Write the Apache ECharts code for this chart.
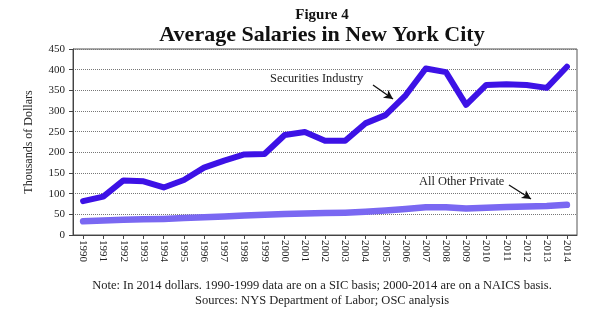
<!DOCTYPE html>
<html>
<head>
<meta charset="utf-8">
<script src="https://cdn.jsdelivr.net/npm/echarts@6/dist/echarts.min.js"></script>
<style>
  html, body { margin: 0; padding: 0; background: #fff; }
  #chart { width: 607px; height: 322px; }
</style>
</head>
<body>
<div id="chart"></div>
<script>
// Years on the horizontal axis
const years = ['1990','1991','1992','1993','1994','1995','1996','1997','1998','1999',
  '2000','2001','2002','2003','2004','2005','2006','2007','2008','2009',
  '2010','2011','2012','2013','2014'];

// Average salary, thousands of 2014 dollars
const securities = [82, 93, 132, 130, 115, 133, 163, 180, 195, 196,
  242, 249, 228, 228, 270, 290, 338, 403, 394, 315,
  363, 365, 363, 356, 407];
const otherPrivate = [33, 35, 37, 38, 39, 41, 43, 45, 47, 49,
  51, 52, 53, 54, 56, 59, 63, 67, 67, 64,
  66, 68, 69, 70, 73];

// Value axis ticks
const yMin = 0, yMax = 450, yStep = 50;

const serif = '"Liberation Serif", "Times New Roman", serif';
const ink = '#222';

const chart = echarts.init(document.getElementById('chart'), null, { renderer: 'canvas' });

chart.setOption({
  animation: false,
  backgroundColor: '#fff',
  textStyle: { fontFamily: serif },
  title: [
    { text: 'Figure 4', left: 317, top: 3, textAlign: 'center',
      textStyle: { fontFamily: serif, fontSize: 15, fontWeight: 'bold', color: '#111' } },
    { text: 'Average Salaries in New York City', left: 317, top: 19, textAlign: 'center',
      textStyle: { fontFamily: serif, fontSize: 22, fontWeight: 'bold', color: '#111' } },
    { text: 'Note: In 2014 dollars. 1990-1999 data are on a SIC basis; 2000-2014 are on a NAICS basis.\nSources: NYS Department of Labor; OSC analysis',
      left: 317, top: 273, textAlign: 'center',
      textStyle: { fontFamily: serif, fontSize: 12.5, fontWeight: 'normal', color: ink, lineHeight: 15, align: 'center' } }
  ],
  grid: { left: 73, right: 30, top: 49, bottom: 87, show: true, borderColor: '#555', borderWidth: 1 },
  xAxis: {
    type: 'category',
    data: years,
    boundaryGap: true,
    axisLine: { show: true, lineStyle: { color: '#444', width: 1 } },
    axisTick: { show: true, alignWithLabel: true, length: 4, lineStyle: { color: '#444' } },
    axisLabel: { rotate: -90, interval: 0, fontFamily: serif, fontSize: 11, color: ink, margin: 5 },
    splitLine: { show: false }
  },
  yAxis: {
    type: 'value',
    min: yMin, max: yMax, interval: yStep,
    name: 'Thousands of Dollars',
    nameLocation: 'middle',
    nameGap: 38,
    nameRotate: 90,
    nameTextStyle: { fontFamily: serif, fontSize: 12, color: ink },
    axisLine: { show: true, lineStyle: { color: '#444', width: 1 } },
    axisTick: { show: true, length: 4, lineStyle: { color: '#444' } },
    axisLabel: { fontFamily: serif, fontSize: 11, color: ink, margin: 8 },
    splitLine: { show: true, lineStyle: { color: '#777', type: [1, 1], width: 1 } }
  },
  series: [
    {
      name: 'Securities Industry',
      type: 'line',
      data: securities,
      symbol: 'none',
      lineStyle: { color: '#3d12e6', width: 6, join: 'round', cap: 'round' },
      z: 3,
      markLine: {
        silent: true,
        symbol: ['none', 'arrow'],
        symbolSize: [7, 9],
        lineStyle: { color: '#111', width: 1.3, type: 'solid' },
        label: { show: false },
        data: [
          [{ x: 373, y: 85 }, { x: 393, y: 99 }]
        ]
      }
    },
    {
      name: 'All Other Private',
      type: 'line',
      data: otherPrivate,
      symbol: 'none',
      lineStyle: { color: '#7a68f2', width: 6.5, join: 'round', cap: 'round' },
      z: 2,
      markLine: {
        silent: true,
        symbol: ['none', 'arrow'],
        symbolSize: [7, 9],
        lineStyle: { color: '#111', width: 1.3, type: 'solid' },
        label: { show: false },
        data: [
          [{ x: 509, y: 185 }, { x: 531, y: 199 }]
        ]
      }
    }
  ],
  graphic: [
    { type: 'text', left: 270, top: 73,
      style: { text: 'Securities Industry', font: '12.4px ' + serif, fill: ink } },
    { type: 'text', left: 419, top: 176,
      style: { text: 'All Other Private', font: '12.4px ' + serif, fill: ink } }
  ]
});
</script>
</body>
</html>
